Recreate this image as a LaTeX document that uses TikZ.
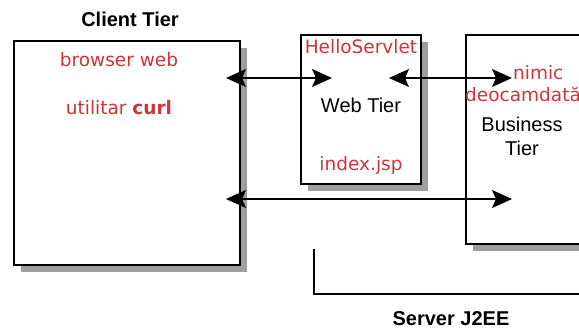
\documentclass[tikz,border=0pt]{standalone}
\usepackage{fontspec}
\setmainfont{Liberation Sans}
\newfontfamily\labelfont{DejaVu Sans}
\usetikzlibrary{arrows.meta}
\definecolor{labelred}{RGB}{206,52,58}
\definecolor{shadowgray}{RGB}{158,158,158}
\tikzset{
  tierbox/.style={draw=black, fill=white, line width=1.3pt},
  tiershadow/.style={fill=shadowgray, draw=none},
  redlabel/.style={text=labelred, font=\labelfont\fontsize{18.5}{22}\selectfont, inner sep=0pt},
  blacklabel/.style={text=black, font=\fontsize{20}{23}\selectfont, inner sep=0pt, align=center},
  title/.style={text=black, font=\bfseries\fontsize{20}{23}\selectfont, inner sep=0pt},
  link/.style={line width=1.3pt, {Stealth[length=20pt,width=18pt,inset=4pt]}-{Stealth[length=20pt,width=18pt,inset=4pt]}}
}
\begin{document}
\begin{tikzpicture}[x=1pt,y=-1pt]
\useasboundingbox (0,0) rectangle (579,331);
\clip (0,0) rectangle (579,331);

% drop shadows
\fill[tiershadow] (21,48) rectangle (247,272);
\fill[tiershadow] (308,42) rectangle (428,191);
\fill[tiershadow] (473,42) rectangle (620,251);

% tiers
\draw[tierbox] (14,41) rectangle (240,265);
\draw[tierbox] (301,35) rectangle (421,184);
\draw[tierbox] (466,35) rectangle (620,244);

% client tier
\node[title] (clientTitle) at (130,19) {Client Tier};
\node[redlabel] (browser) at (119,60) {browser web};
\node[redlabel] (curl) at (119,108) {utilitar \textbf{curl}};

% web tier
\node[redlabel] (servlet) at (361,47) {HelloServlet};
\node[blacklabel] (webTier) at (361,105) {Web Tier};
\node[redlabel] (jsp) at (361,165) {index.jsp};

% business tier
\node[redlabel, anchor=west] (nimic) at (513,73) {nimic};
\node[redlabel, anchor=west] (deocamdata) at (465,95) {deocamdată};
\node[blacklabel] (business) at (522,136) {Business\\[1pt]Tier};

% connector end points
\coordinate (c1) at (226,78);
\coordinate (w1) at (332,78);
\coordinate (w2) at (389,78);
\coordinate (b1) at (512,78);
\coordinate (c2) at (226,199);
\coordinate (b2) at (512,199);

\draw[link] (c1) -- (w1);
\draw[link] (w2) -- (b1);
\draw[link] (c2) -- (b2);

% server bracket
\coordinate (srvTop) at (314,249);
\coordinate (srvCorner) at (314,294);
\coordinate (srvEnd) at (620,294);
\draw[line width=1.3pt] (srvTop) -- (srvCorner) -- (srvEnd);
\node[title] (server) at (451,319) {Server J2EE};
\end{tikzpicture}
\end{document}
